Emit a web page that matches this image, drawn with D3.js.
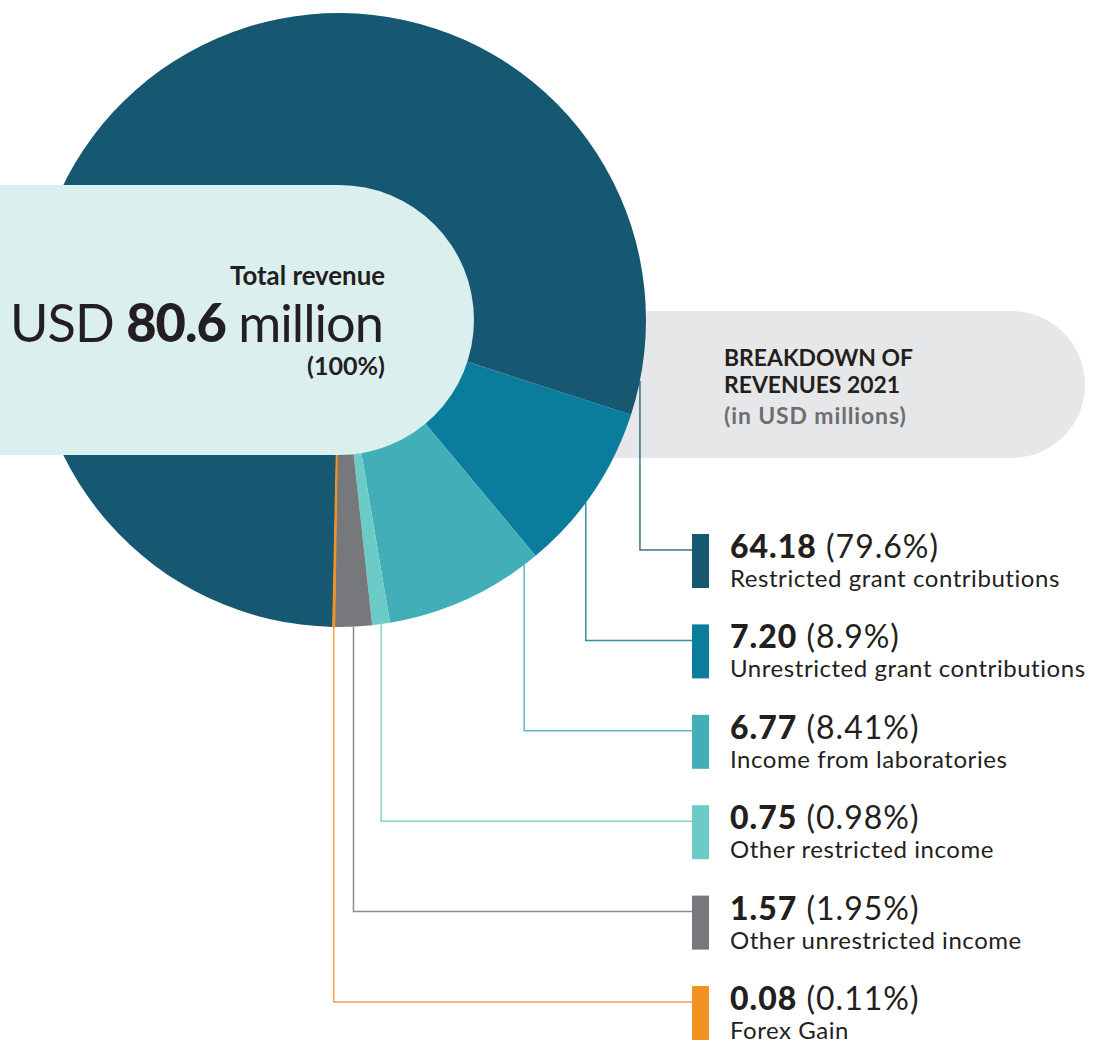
<!DOCTYPE html>
<html>
<head>
<meta charset="utf-8">
<script src="https://cdn.jsdelivr.net/npm/d3@7"></script>
<style>
  html, body { margin: 0; padding: 0; background: #ffffff; }
  svg { display: block; font-family: Lato, "Noto Sans", sans-serif; }
</style>
</head>
<body>
<svg id="chart" width="1101" height="1043"></svg>
<script>
// ---- data ----
const categories = [
  "Restricted grant contributions",
  "Unrestricted grant contributions",
  "Income from laboratories",
  "Other restricted income",
  "Other unrestricted income",
  "Forex Gain"
];
const values = [64.18, 7.20, 6.77, 0.75, 1.57, 0.08];
const valueLabels = ["64.18", "7.20", "6.77", "0.75", "1.57", "0.08"];
const percentLabels = ["79.6%", "8.9%", "8.41%", "0.98%", "1.95%", "0.11%"];
const totalLabel = "80.6";

// ---- styles / layout ----
const colors = ["#165872", "#0a7d9c", "#42aeb7", "#6ccac7", "#77787c", "#f29222"];
const leaderFrac = [0.977, 0.575, 0.09, 0.5, 0.5, 0.5];
const cx = 339, cy = 320, R = 307, hole = 135;
const textColor = "#231f20";

const svg = d3.select("#chart");
const total = d3.sum(values);
const boundary = 108 * Math.PI / 180;
const start = boundary - 2 * Math.PI * values[0] / total;

const pie = d3.pie().sort(null).value(d => d)
  .startAngle(start).endAngle(start + 2 * Math.PI);
const arcs = pie(values);
const arc = d3.arc().innerRadius(0).outerRadius(R);

function fitWidth(sel, target) {
  const w = sel.node().getComputedTextLength();
  const fs = parseFloat(sel.attr("font-size"));
  sel.attr("font-size", fs * target / w);
}

// grey title panel (behind pie)
const gp = { x: 500, y: 311, w: 585, h: 147 };
svg.append("path")
  .attr("d", `M${gp.x},${gp.y} H${gp.x + gp.w - gp.h / 2} A${gp.h / 2},${gp.h / 2} 0 0 1 ${gp.x + gp.w - gp.h / 2},${gp.y + gp.h} H${gp.x} Z`)
  .attr("fill", "#e6e7e8");

// legend positions
const legY = d3.scaleLinear().domain([0, categories.length - 1]).range([534, 986]);
const sqX = 692, sqW = 17, sqH = 54, txtX = 730;

// leader lines
const leaders = svg.append("g");
arcs.forEach((a, i) => {
  const ang = a.startAngle + leaderFrac[i] * (a.endAngle - a.startAngle);
  const x = cx + R * Math.sin(ang);
  const y = cy - R * Math.cos(ang);
  const ly = legY(i) + 16;
  leaders.append("path")
    .attr("d", `M${x},${y} V${ly} H${sqX}`)
    .attr("fill", "none")
    .attr("stroke", colors[i])
    .attr("stroke-opacity", 0.85)
    .attr("stroke-width", 1.5);
});

// pie
const pg = svg.append("g").attr("transform", `translate(${cx},${cy})`);
pg.selectAll("path.slice").data(arcs).enter().append("path")
  .attr("class", "slice")
  .attr("d", arc)
  .attr("fill", (d, i) => colors[i])
  .attr("stroke", (d, i) => i === 5 ? colors[i] : "none")
  .attr("stroke-width", 1.2);

// light centre panel
svg.append("path")
  .attr("d", `M0,${cy - hole} H${cx} A${hole},${hole} 0 0 1 ${cx},${cy + hole} H0 Z`)
  .attr("fill", "#dcefef");

// centre text
const tr = svg.append("text").attr("x", 385).attr("y", 285)
  .attr("text-anchor", "end").attr("font-size", 26).attr("font-weight", 700)
  .attr("fill", textColor).text("Total revenue");
fitWidth(tr, 155);
const big = svg.append("text").attr("x", 383).attr("y", 342)
  .attr("text-anchor", "end").attr("font-size", 56).attr("fill", textColor)
  .attr("letter-spacing", -1);
big.append("tspan").attr("font-weight", 400).text("USD ");
big.append("tspan").attr("font-weight", 900).text(totalLabel);
big.append("tspan").attr("font-weight", 400).text(" million");
fitWidth(big, 374);
const pc = svg.append("text").attr("x", 385).attr("y", 375)
  .attr("text-anchor", "end").attr("font-size", 23).attr("font-weight", 700)
  .attr("fill", textColor).text("(100%)");
fitWidth(pc, 78);

// title text
const t1 = svg.append("text").attr("x", 724).attr("y", 366)
  .attr("font-size", 23).attr("font-weight", 700).attr("fill", textColor).text("BREAKDOWN OF");
fitWidth(t1, 189);
const t2 = svg.append("text").attr("x", 724).attr("y", 393)
  .attr("font-size", t1.attr("font-size")).attr("font-weight", 700).attr("fill", textColor).text("REVENUES 2021");
const t3 = svg.append("text").attr("x", 724).attr("y", 424)
  .attr("font-size", t1.attr("font-size")).attr("font-weight", 700).attr("fill", "#6d6e71")
  .attr("letter-spacing", 0.9).text("(in USD millions)");

// legend
const leg = svg.append("g");
categories.forEach((c, i) => {
  const y = legY(i);
  leg.append("rect").attr("x", sqX).attr("y", y).attr("width", sqW).attr("height", sqH)
    .attr("fill", colors[i]);
  const t = leg.append("text").attr("x", txtX).attr("y", y + 24)
    .attr("font-size", 32).attr("fill", textColor).attr("letter-spacing", 1);
  t.append("tspan").attr("font-weight", 900).text(valueLabels[i]);
  t.append("tspan").attr("font-weight", 400).text(" (" + percentLabels[i] + ")");
  leg.append("text").attr("x", txtX).attr("y", y + 53)
    .attr("font-size", 24).attr("letter-spacing", 0.55).attr("fill", textColor).text(c);
});
</script>
</body>
</html>
